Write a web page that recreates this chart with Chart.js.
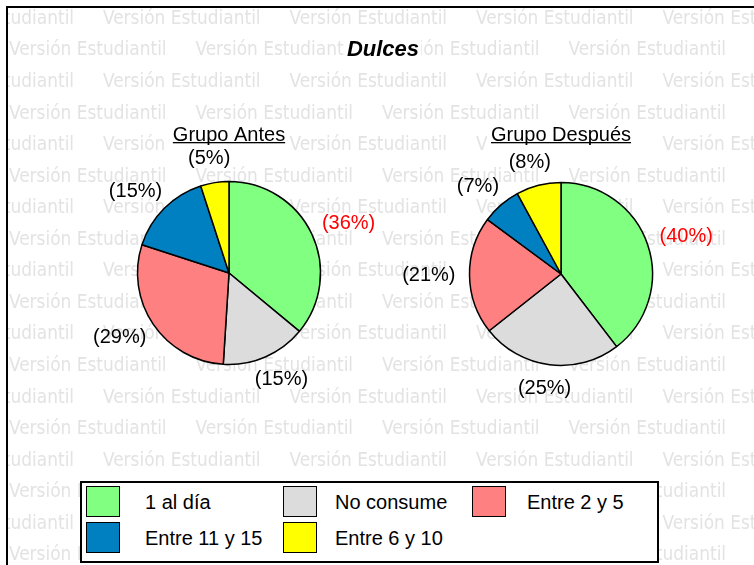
<!DOCTYPE html>
<html>
<head>
<meta charset="utf-8">
<script src="https://cdn.jsdelivr.net/npm/chart.js@4.4.1/dist/chart.umd.min.js"></script>
<style>
body{margin:0;background:#fff}
#lienzo{position:relative;width:754px;height:565px;overflow:hidden;background:#fff}
#lienzo canvas{position:absolute;left:0;top:0}
#leyenda{position:absolute;left:80px;top:481px;width:579px;height:82px;box-sizing:border-box;border:2px solid #000;background:#fff;font:20px "Liberation Sans",Arial,sans-serif;color:#000}
.caja{position:absolute;width:34px;height:31px;box-sizing:border-box;border:1px solid #000}
.txt{position:absolute;line-height:20px;white-space:nowrap}
</style>
</head>
<body>
<div id="lienzo">
  <canvas id="graficoAntes" width="754" height="565"></canvas>
  <canvas id="graficoDespues" width="754" height="565"></canvas>
  <div id="leyenda"></div>
</div>
<script>
// datos
var categorias = ["1 al día", "No consume", "Entre 2 y 5", "Entre 11 y 15", "Entre 6 y 10"];
var grupoAntes = [36, 15, 29, 15, 5];
var grupoDespues = [40, 25, 21, 7, 8];
var titulo = "Dulces";
var subtitulos = ["Grupo Antes", "Grupo Después"];
var marca = "Versión Estudiantil";

var colores = ["#80ff80", "#dcdcdc", "#ff8080", "#0080c0", "#ffff00"];
var fuente = '"Liberation Sans", Arial, sans-serif';
var fuenteMarca = '"DejaVu Sans Condensed", "DejaVu Sans", sans-serif';

// marca de agua y marco
var fondo = {
    id: "fondo",
    beforeDraw: function (chart) {
        var ctx = chart.ctx;
        ctx.save();
        ctx.fillStyle = "#fff";
        ctx.fillRect(0, 0, chart.width, chart.height);
        ctx.beginPath();
        ctx.rect(8, 8, chart.width, chart.height);
        ctx.clip();
        ctx.font = "19px " + fuenteMarca;
        var w = ctx.measureText(marca).width;
        var tam = 19 * 158 / w;
        ctx.font = tam.toFixed(1) + "px " + fuenteMarca;
        ctx.fillStyle = "#e3e3e3";
        ctx.textBaseline = "middle";
        ctx.textAlign = "left";
        for (var i = 0; i < 18; i++) {
            var y = 19 + i * 31.55;
            var x = (i % 2) ? 9 : -83.5;
            for (; x < chart.width; x += 186.5) {
                ctx.fillText(marca, x, y);
            }
        }
        ctx.restore();
    },
    afterDraw: function (chart) {
        var ctx = chart.ctx;
        ctx.save();
        // titulo
        ctx.font = "italic bold 22px " + fuente;
        var tw = ctx.measureText(titulo).width;
        ctx.fillStyle = "#fff";
        ctx.fillRect(383 - tw / 2 - 2, 38, tw + 4, 24);
        ctx.fillStyle = "#000";
        ctx.textAlign = "center";
        ctx.textBaseline = "middle";
        ctx.fillText(titulo, 383, 50);
        // marco
        ctx.strokeStyle = "#000";
        ctx.lineWidth = 2;
        ctx.strokeRect(7, 7, chart.width + 10, chart.height + 10);
        ctx.restore();
    }
};

// subtitulo subrayado y etiquetas de porcentaje
var etiquetas = {
    id: "etiquetas",
    afterDatasetsDraw: function (chart) {
        var ctx = chart.ctx;
        var area = chart.chartArea;
        var cx = (area.left + area.right) / 2;
        var sub = chart.options.plugins.etiquetas.subtitulo;
        ctx.save();
        ctx.font = "20px " + fuente;
        ctx.textAlign = "center";
        ctx.textBaseline = "middle";
        var sw = ctx.measureText(sub).width;
        ctx.fillStyle = "#fff";
        ctx.fillRect(cx - sw / 2 - 4, 120, sw + 8, 36);
        ctx.fillStyle = "#000";
        ctx.fillText(sub, cx, 135);
        ctx.fillRect(cx - sw / 2, 142, sw, 1.3);

        var datos = chart.data.datasets[0].data;
        var max = Math.max.apply(null, datos);
        var meta = chart.getDatasetMeta(0);
        meta.data.forEach(function (arco, i) {
            var p = arco.getProps(["x", "y", "startAngle", "endAngle", "outerRadius"], true);
            var m = (p.startAngle + p.endAngle) / 2;
            var txt = "(" + datos[i] + "%)";
            var hw = ctx.measureText(txt).width / 2;
            var hh = 10;
            var c = Math.cos(m), s = Math.sin(m);
            var d = p.outerRadius + 14;
            var x = p.x + c * d + hw * c;
            var y = p.y + s * d + hh * s;
            ctx.fillStyle = datos[i] === max ? "#ff0000" : "#000";
            ctx.fillText(txt, x, y);
        });
        ctx.restore();
    }
};

function crearPie(id, valores, sub, pad, extra) {
    return new Chart(document.getElementById(id), {
        type: "pie",
        data: {
            labels: categorias,
            datasets: [{
                data: valores,
                backgroundColor: colores,
                borderColor: "#000",
                borderWidth: 1.5,
                radius: 91.5
            }]
        },
        options: {
            responsive: false,
            animation: false,
            devicePixelRatio: 1,
            events: [],
            layout: { padding: pad },
            plugins: {
                legend: { display: false },
                tooltip: { enabled: false },
                etiquetas: { subtitulo: sub }
            }
        },
        plugins: extra.concat([etiquetas])
    });
}

crearPie("graficoAntes", grupoAntes, subtitulos[0], { left: 0, right: 296, top: 0, bottom: 19 }, [fondo]);
crearPie("graficoDespues", grupoDespues, subtitulos[1], { left: 368, right: 0, top: 0, bottom: 17 }, []);

// leyenda
var cajaX = [4, 201, 390];
var textoX = [63, 253, 445];
var leyenda = document.getElementById("leyenda");
categorias.forEach(function (cat, i) {
    var col = i % 3, fila = Math.floor(i / 3);
    var caja = document.createElement("div");
    caja.className = "caja";
    caja.style.left = cajaX[col] + "px";
    caja.style.top = (3 + fila * 36) + "px";
    caja.style.background = colores[i];
    leyenda.appendChild(caja);
    var t = document.createElement("div");
    t.className = "txt";
    t.style.left = textoX[col] + "px";
    t.style.top = (9 + fila * 36) + "px";
    t.textContent = cat;
    leyenda.appendChild(t);
});
</script>
</body>
</html>
